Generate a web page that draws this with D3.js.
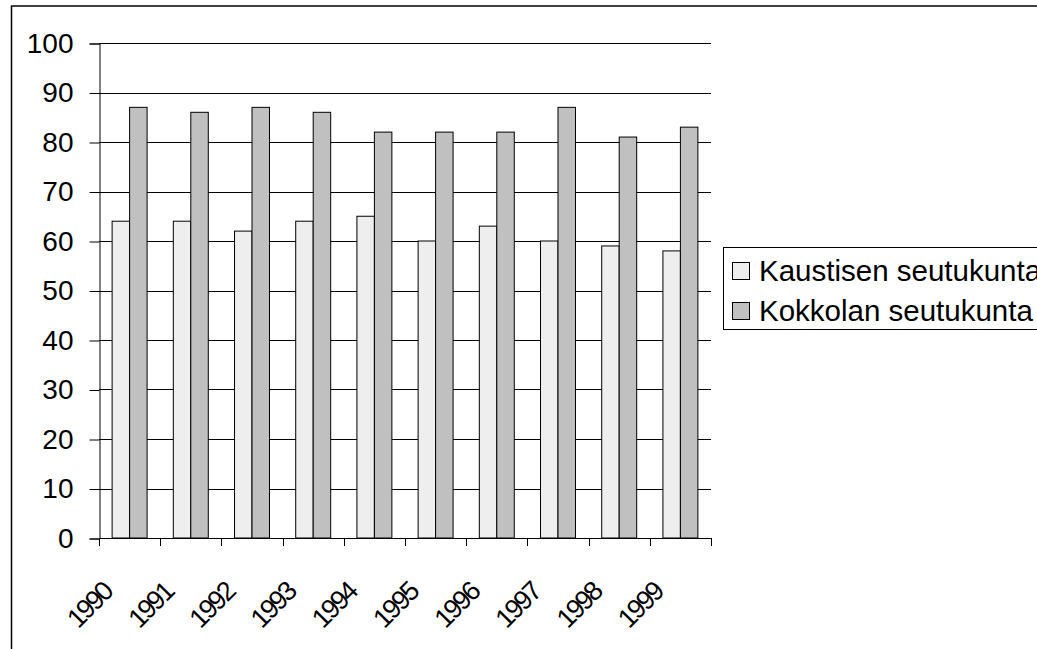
<!DOCTYPE html>
<html>
<head>
<meta charset="utf-8">
<script src="https://cdn.jsdelivr.net/npm/d3@7"></script>
<style>
  body { margin: 0; background: #fff; }
  svg { display: block; font-family: "Liberation Sans", Arial, sans-serif; }
</style>
</head>
<body>
<div id="chart"></div>
<script>
// data
var years = ["1990", "1991", "1992", "1993", "1994", "1995", "1996", "1997", "1998", "1999"];
var seriesNames = ["Kaustisen seutukunta", "Kokkolan seutukunta"];
var kaustinen = [64, 64, 62, 64, 65, 60, 63, 60, 59, 58];
var kokkola = [87, 86, 87, 86, 82, 82, 82, 87, 81, 83];
var yTicks = [0, 10, 20, 30, 40, 50, 60, 70, 80, 90, 100];
var colors = ["#eeeeee", "#c0c0c0"];

var width = 1037, height = 649;
var plot = {left: 99, right: 711, top: 43, bottom: 538};

var svg = d3.select("#chart")
    .append("svg")
    .attr("width", width)
    .attr("height", height);

// outer frame (runs off the right and bottom edge)
svg.append("rect")
    .attr("x", 11.5)
    .attr("y", 6)
    .attr("width", 1200)
    .attr("height", 800)
    .attr("fill", "none")
    .attr("stroke", "#000")
    .attr("stroke-width", 1.5);

var x0 = d3.scaleBand()
    .domain(years)
    .range([plot.left, plot.right]);

var x1 = d3.scaleBand()
    .domain(seriesNames)
    .range([0, x0.bandwidth()])
    .paddingInner(0)
    .paddingOuter(0.75);

var y = d3.scaleLinear()
    .domain([0, 100])
    .range([plot.bottom, plot.top]);

// gridlines
svg.append("g")
    .selectAll("line")
    .data(yTicks)
    .join("line")
    .attr("x1", plot.left)
    .attr("x2", plot.right)
    .attr("y1", d => Math.round(y(d)) + 0.5)
    .attr("y2", d => Math.round(y(d)) + 0.5)
    .attr("stroke", "#000")
    .attr("stroke-width", 1);

// y axis
var yAxis = d3.axisLeft(y)
    .tickValues(yTicks)
    .tickSize(10)
    .tickPadding(16);

svg.append("g")
    .attr("transform", "translate(" + (plot.left + 0.5) + ",0.5)")
    .call(yAxis)
    .call(g => g.select(".domain").attr("stroke", "#000"))
    .call(g => g.selectAll("text")
        .attr("fill", "#000")
        .style("font-size", "28px")
        .style("font-family", "Liberation Sans, Arial, sans-serif"));

// bars
var rows = years.map((yr, i) => ({year: yr, values: [kaustinen[i], kokkola[i]]}));

svg.append("g")
    .selectAll("g")
    .data(rows)
    .join("g")
    .attr("transform", d => "translate(" + x0(d.year) + ",0)")
    .selectAll("rect")
    .data(d => d.values.map((v, j) => ({name: seriesNames[j], value: v, idx: j})))
    .join("rect")
    .attr("x", d => x1(d.name))
    .attr("width", x1.bandwidth())
    .attr("y", d => y(d.value))
    .attr("height", d => y(0) - y(d.value))
    .attr("fill", d => colors[d.idx])
    .attr("stroke", "#000")
    .attr("stroke-width", 1);

// x axis line and boundary ticks
var bounds = years.map(d => x0(d)).concat([plot.right]);
var xg = svg.append("g");
xg.append("line")
    .attr("x1", plot.left)
    .attr("x2", plot.right)
    .attr("y1", Math.round(y(0)) + 0.5)
    .attr("y2", Math.round(y(0)) + 0.5)
    .attr("stroke", "#000");
xg.selectAll("line.tick")
    .data(bounds)
    .join("line")
    .attr("class", "tick")
    .attr("x1", d => Math.round(d) + 0.5)
    .attr("x2", d => Math.round(d) + 0.5)
    .attr("y1", y(0))
    .attr("y2", y(0) + 8)
    .attr("stroke", "#000");

// rotated year labels (tightly set, like the original)
xg.selectAll("text")
    .data(years)
    .join("text")
    .attr("transform", d => "translate(" + (x0(d) + x0.bandwidth() / 2 - 16) + "," + (y(0) + 56) + ") rotate(-45)")
    .attr("text-anchor", "end")
    .attr("fill", "#000")
    .style("font-size", "27px")
    .style("letter-spacing", "-2.5px")
    .text(d => d);

// legend
var legend = svg.append("g")
    .attr("transform", "translate(723,247)");

legend.append("rect")
    .attr("x", 0.5)
    .attr("y", 0.5)
    .attr("width", 400)
    .attr("height", 82)
    .attr("fill", "#fff")
    .attr("stroke", "#000");

var items = legend.selectAll("g.item")
    .data(seriesNames)
    .join("g")
    .attr("class", "item")
    .attr("transform", (d, i) => "translate(0," + (i * 40) + ")");

items.append("rect")
    .attr("x", 9.5)
    .attr("y", 15.5)
    .attr("width", 17)
    .attr("height", 17)
    .attr("fill", (d, i) => colors[i])
    .attr("stroke", "#000");

items.append("text")
    .attr("x", 36)
    .attr("y", 34)
    .attr("fill", "#000")
    .style("font-size", "29.5px")
    .text(d => d);
</script>
</body>
</html>
